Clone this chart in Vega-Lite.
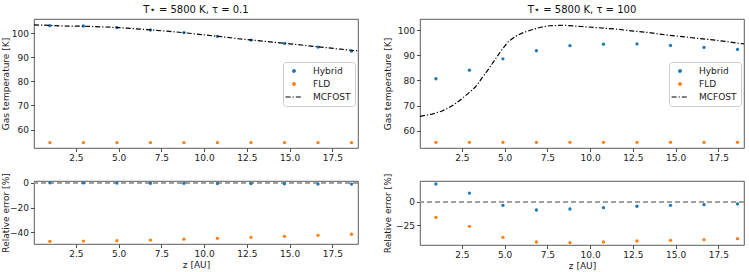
{
  "$schema": "https://vega.github.io/schema/vega-lite/v6.json",
  "padding": {"left": 1, "top": 4, "right": 5, "bottom": 3},
  "config": {
    "font": "DejaVu Sans",
    "view": {"stroke": "#333333", "strokeWidth": 0.8},
    "axis": {"labelFont": "DejaVu Sans", "labelFontSize": 9, "labelColor": "#222222", "titleFont": "DejaVu Sans", "titleFontSize": 9, "titleFontWeight": "normal", "titleColor": "#222222", "tickColor": "#222222", "tickSize": 3.5, "tickWidth": 0.8, "domain": false, "grid": false, "labelPadding": 2, "titlePadding": 3},
    "title": {"font": "DejaVu Sans", "fontSize": 10, "fontWeight": "normal", "color": "#111111", "baseline": "alphabetic", "offset": 4, "anchor": "middle"},
    "legend": {"orient": "none", "legendX": 249, "legendY": 43, "padding": 4, "rowPadding": 3, "strokeColor": "#cccccc", "fillColor": "#ffffff", "cornerRadius": 3, "labelFont": "DejaVu Sans", "labelFontSize": 9, "labelColor": "#222222", "labelOffset": 14, "symbolSize": 64, "symbolOffset": 2, "symbolStrokeWidth": 1.2}
  },
  "data": {"values": [
    {"p":"L","k":"T","s":"Hybrid","z":0.98,"v":103.2},{"p":"L","k":"T","s":"Hybrid","z":2.94,"v":103.05},{"p":"L","k":"T","s":"Hybrid","z":4.9,"v":102.4},{"p":"L","k":"T","s":"Hybrid","z":6.86,"v":101.4},{"p":"L","k":"T","s":"Hybrid","z":8.82,"v":100.3},{"p":"L","k":"T","s":"Hybrid","z":10.78,"v":98.75},{"p":"L","k":"T","s":"Hybrid","z":12.74,"v":97.2},{"p":"L","k":"T","s":"Hybrid","z":14.7,"v":95.8},{"p":"L","k":"T","s":"Hybrid","z":16.66,"v":94.3},{"p":"L","k":"T","s":"Hybrid","z":18.62,"v":92.6},
    {"p":"L","k":"T","s":"FLD","z":0.98,"v":54.6},{"p":"L","k":"T","s":"FLD","z":2.94,"v":54.6},{"p":"L","k":"T","s":"FLD","z":4.9,"v":54.6},{"p":"L","k":"T","s":"FLD","z":6.86,"v":54.6},{"p":"L","k":"T","s":"FLD","z":8.82,"v":54.6},{"p":"L","k":"T","s":"FLD","z":10.78,"v":54.6},{"p":"L","k":"T","s":"FLD","z":12.74,"v":54.6},{"p":"L","k":"T","s":"FLD","z":14.7,"v":54.6},{"p":"L","k":"T","s":"FLD","z":16.66,"v":54.6},{"p":"L","k":"T","s":"FLD","z":18.62,"v":54.6},
    {"p":"L","k":"T","s":"MCFOST","z":0.05,"v":103.5},{"p":"L","k":"T","s":"MCFOST","z":1,"v":103.3},{"p":"L","k":"T","s":"MCFOST","z":2,"v":103.0},{"p":"L","k":"T","s":"MCFOST","z":3,"v":102.95},{"p":"L","k":"T","s":"MCFOST","z":4,"v":102.7},{"p":"L","k":"T","s":"MCFOST","z":5,"v":102.4},{"p":"L","k":"T","s":"MCFOST","z":6,"v":101.9},{"p":"L","k":"T","s":"MCFOST","z":7,"v":101.35},{"p":"L","k":"T","s":"MCFOST","z":8,"v":100.8},{"p":"L","k":"T","s":"MCFOST","z":9,"v":100.15},{"p":"L","k":"T","s":"MCFOST","z":10,"v":99.35},{"p":"L","k":"T","s":"MCFOST","z":11,"v":98.6},{"p":"L","k":"T","s":"MCFOST","z":12,"v":97.75},{"p":"L","k":"T","s":"MCFOST","z":13,"v":97.05},{"p":"L","k":"T","s":"MCFOST","z":14,"v":96.35},{"p":"L","k":"T","s":"MCFOST","z":15,"v":95.65},{"p":"L","k":"T","s":"MCFOST","z":16,"v":94.9},{"p":"L","k":"T","s":"MCFOST","z":17,"v":94.15},{"p":"L","k":"T","s":"MCFOST","z":18,"v":93.4},{"p":"L","k":"T","s":"MCFOST","z":19,"v":92.7},
    {"p":"L","k":"E","s":"Hybrid","z":0.98,"v":0.1},{"p":"L","k":"E","s":"Hybrid","z":2.94,"v":0.05},{"p":"L","k":"E","s":"Hybrid","z":4.9,"v":0.0},{"p":"L","k":"E","s":"Hybrid","z":6.86,"v":-0.2},{"p":"L","k":"E","s":"Hybrid","z":8.82,"v":-0.3},{"p":"L","k":"E","s":"Hybrid","z":10.78,"v":-0.4},{"p":"L","k":"E","s":"Hybrid","z":12.74,"v":-0.5},{"p":"L","k":"E","s":"Hybrid","z":14.7,"v":-0.6},{"p":"L","k":"E","s":"Hybrid","z":16.66,"v":-0.8},{"p":"L","k":"E","s":"Hybrid","z":18.62,"v":-0.9},
    {"p":"L","k":"E","s":"FLD","z":0.98,"v":-47.2},{"p":"L","k":"E","s":"FLD","z":2.94,"v":-46.95},{"p":"L","k":"E","s":"FLD","z":4.9,"v":-46.6},{"p":"L","k":"E","s":"FLD","z":6.86,"v":-46.1},{"p":"L","k":"E","s":"FLD","z":8.82,"v":-45.4},{"p":"L","k":"E","s":"FLD","z":10.78,"v":-44.7},{"p":"L","k":"E","s":"FLD","z":12.74,"v":-43.9},{"p":"L","k":"E","s":"FLD","z":14.7,"v":-43.1},{"p":"L","k":"E","s":"FLD","z":16.66,"v":-42.3},{"p":"L","k":"E","s":"FLD","z":18.62,"v":-41.4},
    {"p":"R","k":"T","s":"Hybrid","z":0.98,"v":80.7},{"p":"R","k":"T","s":"Hybrid","z":2.94,"v":84.1},{"p":"R","k":"T","s":"Hybrid","z":4.9,"v":88.6},{"p":"R","k":"T","s":"Hybrid","z":6.86,"v":91.8},{"p":"R","k":"T","s":"Hybrid","z":8.82,"v":93.8},{"p":"R","k":"T","s":"Hybrid","z":10.78,"v":94.4},{"p":"R","k":"T","s":"Hybrid","z":12.74,"v":94.5},{"p":"R","k":"T","s":"Hybrid","z":14.7,"v":93.9},{"p":"R","k":"T","s":"Hybrid","z":16.66,"v":93.1},{"p":"R","k":"T","s":"Hybrid","z":18.62,"v":92.3},
    {"p":"R","k":"T","s":"FLD","z":0.98,"v":55.5},{"p":"R","k":"T","s":"FLD","z":2.94,"v":55.5},{"p":"R","k":"T","s":"FLD","z":4.9,"v":55.5},{"p":"R","k":"T","s":"FLD","z":6.86,"v":55.5},{"p":"R","k":"T","s":"FLD","z":8.82,"v":55.5},{"p":"R","k":"T","s":"FLD","z":10.78,"v":55.5},{"p":"R","k":"T","s":"FLD","z":12.74,"v":55.5},{"p":"R","k":"T","s":"FLD","z":14.7,"v":55.5},{"p":"R","k":"T","s":"FLD","z":16.66,"v":55.5},{"p":"R","k":"T","s":"FLD","z":18.62,"v":55.5},
    {"p":"R","k":"T","s":"MCFOST","z":0.05,"v":65.8},{"p":"R","k":"T","s":"MCFOST","z":0.75,"v":66.7},{"p":"R","k":"T","s":"MCFOST","z":1.3,"v":67.8},{"p":"R","k":"T","s":"MCFOST","z":1.74,"v":69.2},{"p":"R","k":"T","s":"MCFOST","z":2.2,"v":71.2},{"p":"R","k":"T","s":"MCFOST","z":2.52,"v":72.9},{"p":"R","k":"T","s":"MCFOST","z":3.0,"v":75.6},{"p":"R","k":"T","s":"MCFOST","z":3.3,"v":77.5},{"p":"R","k":"T","s":"MCFOST","z":3.7,"v":81.2},{"p":"R","k":"T","s":"MCFOST","z":4.09,"v":84.8},{"p":"R","k":"T","s":"MCFOST","z":4.5,"v":88.9},{"p":"R","k":"T","s":"MCFOST","z":4.87,"v":92.5},{"p":"R","k":"T","s":"MCFOST","z":5.2,"v":95.3},{"p":"R","k":"T","s":"MCFOST","z":5.66,"v":97.6},{"p":"R","k":"T","s":"MCFOST","z":6.1,"v":99.0},{"p":"R","k":"T","s":"MCFOST","z":6.64,"v":100.2},{"p":"R","k":"T","s":"MCFOST","z":7.1,"v":101.1},{"p":"R","k":"T","s":"MCFOST","z":7.62,"v":101.7},{"p":"R","k":"T","s":"MCFOST","z":8.4,"v":101.9},{"p":"R","k":"T","s":"MCFOST","z":9.5,"v":101.4},{"p":"R","k":"T","s":"MCFOST","z":10.5,"v":100.9},{"p":"R","k":"T","s":"MCFOST","z":11.46,"v":100.4},{"p":"R","k":"T","s":"MCFOST","z":12.4,"v":99.7},{"p":"R","k":"T","s":"MCFOST","z":13.42,"v":99.0},{"p":"R","k":"T","s":"MCFOST","z":14.4,"v":98.1},{"p":"R","k":"T","s":"MCFOST","z":15.38,"v":97.4},{"p":"R","k":"T","s":"MCFOST","z":16.4,"v":96.6},{"p":"R","k":"T","s":"MCFOST","z":17.34,"v":96.0},{"p":"R","k":"T","s":"MCFOST","z":18.2,"v":95.2},{"p":"R","k":"T","s":"MCFOST","z":19,"v":94.5},
    {"p":"R","k":"E","s":"Hybrid","z":0.98,"v":19.3},{"p":"R","k":"E","s":"Hybrid","z":2.94,"v":9.6},{"p":"R","k":"E","s":"Hybrid","z":4.9,"v":-3.6},{"p":"R","k":"E","s":"Hybrid","z":6.86,"v":-8.6},{"p":"R","k":"E","s":"Hybrid","z":8.82,"v":-7.5},{"p":"R","k":"E","s":"Hybrid","z":10.78,"v":-6.1},{"p":"R","k":"E","s":"Hybrid","z":12.74,"v":-4.6},{"p":"R","k":"E","s":"Hybrid","z":14.7,"v":-3.6},{"p":"R","k":"E","s":"Hybrid","z":16.66,"v":-2.9},{"p":"R","k":"E","s":"Hybrid","z":18.62,"v":-2.1},
    {"p":"R","k":"E","s":"FLD","z":0.98,"v":-16.4},{"p":"R","k":"E","s":"FLD","z":2.94,"v":-26.1},{"p":"R","k":"E","s":"FLD","z":4.9,"v":-37.9},{"p":"R","k":"E","s":"FLD","z":6.86,"v":-42.9},{"p":"R","k":"E","s":"FLD","z":8.82,"v":-43.6},{"p":"R","k":"E","s":"FLD","z":10.78,"v":-42.9},{"p":"R","k":"E","s":"FLD","z":12.74,"v":-41.8},{"p":"R","k":"E","s":"FLD","z":14.7,"v":-41.1},{"p":"R","k":"E","s":"FLD","z":16.66,"v":-40.4},{"p":"R","k":"E","s":"FLD","z":18.62,"v":-39.3}
  ]},
  "columns": 2,
  "spacing": {"row": 33, "column": 62},
  "bounds": "flush",
  "resolve": {"scale": {"color": "independent"}, "legend": {"color": "independent"}},
  "concat": [
    {
      "width": 324, "height": 129,
      "title": "T⋆ = 5800 K, τ = 0.1",
      "transform": [{"filter": "datum.p === 'L' && datum.k === 'T'"}],
      "encoding": {
        "x": {"field": "z", "type": "quantitative", "scale": {"domain": [0.05, 19.0], "nice": false, "zero": false}, "axis": {"title": null, "values": [2.5, 5, 7.5, 10, 12.5, 15, 17.5], "format": ".1f"}},
        "y": {"field": "v", "type": "quantitative", "scale": {"domain": [52.33, 105.96], "nice": false, "zero": false}, "axis": {"title": "Gas temperature [K]", "values": [60, 70, 80, 90, 100], "titleX": -28.5, "titleBaseline": "middle"}},
        "color": {"field": "s", "type": "nominal", "scale": {"domain": ["Hybrid", "FLD", "MCFOST"], "range": ["#1f77b4", "#ff7f0e", "#000000"]},
          "legend": {"title": null, "encode": {"symbols": {"update": {
            "shape": {"signal": "datum.value === 'MCFOST' ? 'M-2.1,0H2.1' : 'M-0.33,0A0.33,0.33,0,1,0,0.33,0A0.33,0.33,0,1,0,-0.33,0Z'"},
            "fill": {"signal": "datum.value === 'Hybrid' ? '#1f77b4' : datum.value === 'FLD' ? '#ff7f0e' : 'transparent'"},
            "stroke": {"signal": "datum.value === 'MCFOST' ? '#000000' : 'transparent'"},
            "strokeDash": {"signal": "datum.value === 'MCFOST' ? [5, 2, 1.2, 2] : [1, 0]"},
            "opacity": {"value": 1}
          }}}}}
      },
      "layer": [
        {"transform": [{"filter": "datum.s !== 'MCFOST'"}], "mark": {"type": "point", "filled": true, "size": 11, "opacity": 1}},
        {"transform": [{"filter": "datum.s === 'MCFOST'"}], "mark": {"type": "line", "strokeWidth": 1.2, "strokeDash": [5, 2, 1.2, 2], "clip": true}}
      ]
    },
    {
      "width": 324, "height": 129,
      "title": "T⋆ = 5800 K, τ = 100",
      "transform": [{"filter": "datum.p === 'R' && datum.k === 'T'"}],
      "encoding": {
        "x": {"field": "z", "type": "quantitative", "scale": {"domain": [0.05, 19.0], "nice": false, "zero": false}, "axis": {"title": null, "values": [2.5, 5, 7.5, 10, 12.5, 15, 17.5], "format": ".1f"}},
        "y": {"field": "v", "type": "quantitative", "scale": {"domain": [53.25, 104.37], "nice": false, "zero": false}, "axis": {"title": "Gas temperature [K]", "values": [60, 70, 80, 90, 100], "titleX": -32.6, "titleBaseline": "middle"}},
        "color": {"field": "s", "type": "nominal", "scale": {"domain": ["Hybrid", "FLD", "MCFOST"], "range": ["#1f77b4", "#ff7f0e", "#000000"]},
          "legend": {"title": null, "encode": {"symbols": {"update": {
            "shape": {"signal": "datum.value === 'MCFOST' ? 'M-2.1,0H2.1' : 'M-0.33,0A0.33,0.33,0,1,0,0.33,0A0.33,0.33,0,1,0,-0.33,0Z'"},
            "fill": {"signal": "datum.value === 'Hybrid' ? '#1f77b4' : datum.value === 'FLD' ? '#ff7f0e' : 'transparent'"},
            "stroke": {"signal": "datum.value === 'MCFOST' ? '#000000' : 'transparent'"},
            "strokeDash": {"signal": "datum.value === 'MCFOST' ? [5, 2, 1.2, 2] : [1, 0]"},
            "opacity": {"value": 1}
          }}}}}
      },
      "layer": [
        {"transform": [{"filter": "datum.s !== 'MCFOST'"}], "mark": {"type": "point", "filled": true, "size": 11, "opacity": 1}},
        {"transform": [{"filter": "datum.s === 'MCFOST'"}], "mark": {"type": "line", "strokeWidth": 1.2, "strokeDash": [5, 2, 1.2, 2], "clip": true}}
      ]
    },
    {
      "width": 324, "height": 63,
      "transform": [{"filter": "datum.p === 'L' && datum.k === 'E'"}],
      "layer": [
        {"mark": {"type": "rule", "strokeDash": [5, 3], "stroke": "#a0a0a0", "color": "#a0a0a0", "strokeWidth": 1, "opacity": 1}, "encoding": {"y": {"datum": 0, "type": "quantitative"}}},
        {"mark": {"type": "point", "filled": true, "size": 11, "opacity": 1},
         "encoding": {
           "x": {"field": "z", "type": "quantitative", "scale": {"domain": [0.05, 19.0], "nice": false, "zero": false}, "axis": {"title": "z [AU]", "values": [2.5, 5, 7.5, 10, 12.5, 15, 17.5], "format": ".1f", "titlePadding": 2}},
           "color": {"field": "s", "type": "nominal", "scale": {"domain": ["Hybrid", "FLD"], "range": ["#1f77b4", "#ff7f0e"]}, "legend": null}
         }}
      ],
      "encoding": {
        "y": {"field": "v", "type": "quantitative", "scale": {"domain": [-49.3, 1.61], "nice": false, "zero": false}, "axis": {"title": "Relative error [%]", "values": [-40, -20, 0], "labelExpr": "replace(datum.label, '-', '−')", "titleX": -28.5, "titleBaseline": "middle"}}
      }
    },
    {
      "width": 324, "height": 64,
      "transform": [{"filter": "datum.p === 'R' && datum.k === 'E'"}],
      "layer": [
        {"mark": {"type": "rule", "strokeDash": [5, 3], "stroke": "#a0a0a0", "color": "#a0a0a0", "strokeWidth": 1, "opacity": 1}, "encoding": {"y": {"datum": 0, "type": "quantitative"}}},
        {"mark": {"type": "point", "filled": true, "size": 11, "opacity": 1},
         "encoding": {
           "x": {"field": "z", "type": "quantitative", "scale": {"domain": [0.05, 19.0], "nice": false, "zero": false}, "axis": {"title": "z [AU]", "values": [2.5, 5, 7.5, 10, 12.5, 15, 17.5], "format": ".1f", "titlePadding": 2}},
           "color": {"field": "s", "type": "nominal", "scale": {"domain": ["Hybrid", "FLD"], "range": ["#1f77b4", "#ff7f0e"]}, "legend": null}
         }}
      ],
      "encoding": {
        "y": {"field": "v", "type": "quantitative", "scale": {"domain": [-46.1, 22.5], "nice": false, "zero": false}, "axis": {"title": "Relative error [%]", "values": [-25, 0], "labelExpr": "replace(datum.label, '-', '−')", "titleX": -32.6, "titleBaseline": "middle"}}
      }
    }
  ]
}
